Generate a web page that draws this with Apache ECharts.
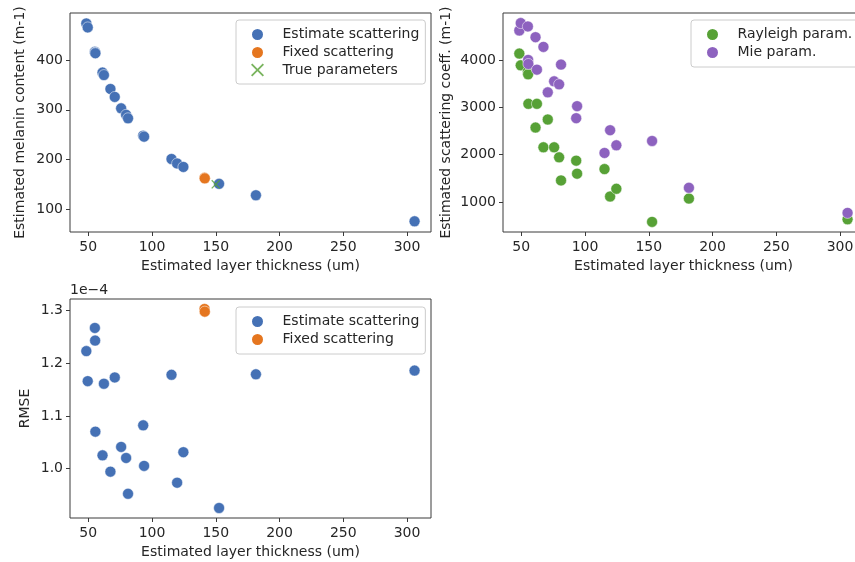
<!DOCTYPE html>
<html>
<head>
<meta charset="utf-8">
<script src="https://cdn.jsdelivr.net/npm/echarts@6/dist/echarts.min.js"></script>
<style>
  html, body { margin: 0; padding: 0; background: #fff; }
  #chart { width: 855px; height: 562px; }
</style>
</head>
<body>
<div id="chart"></div>
<script>
// estimated layer thickness (um), shared by all panels
const thickness = [48.5, 49.6, 55.2, 55.4, 55.6, 61.2, 62.3, 67.4, 70.8, 75.8, 79.7, 81.2, 93.1, 93.8, 115.3, 119.7, 124.6, 152.6, 181.5, 305.9]
const melanin = [474, 466, 417, 415, 414, 375, 370, 342, 326, 303, 290, 283, 248, 246, 201, 192, 185, 151, 128, 75.5]
const rmse = [1.223, 1.166, 1.267, 1.243, 1.070, 1.025, 1.161, 0.994, 1.173, 1.041, 1.020, 0.952, 1.082, 1.005, 1.178, 0.973, 1.031, 0.925, 1.179, 1.186] // x 1e-4
const rayleigh = [4134, 3887, 3752, 3697, 3074, 2574, 3074, 2157, 2743, 2157, 1945, 1458, 1875, 1600, 1697, 1119, 1282, 583, 1076, 638]
const mie = [4621, 4777, 4706, 4000, 3915, 4480, 3795, 4275, 3316, 3548, 3485, 3901, 2771, 3025, 2037, 2517, 2199, 2290, 1303, 773]

const fixedThickness = [141.2, 141.4]
const fixedMelanin = [163, 162]
const fixedRmse = [1.303, 1.298]

const trueThickness = [150]
const trueMelanin = [150]

const xTicks = [50, 100, 150, 200, 250, 300]
const melaninTicks = [100, 200, 300, 400]
const scatterTicks = [1000, 2000, 3000, 4000]
const rmseTicks = [1.0, 1.1, 1.2, 1.3]

const C = {
  blue: '#4571b5',
  orange: '#e5761f',
  green: '#57a136',
  purple: '#8d62bf',
  text: '#262626',
  frame: '#3a3a3a'
}
const FONT = 'DejaVu Sans'
const FS = 14
const xPath = 'path://M1,0 L5,4 L9,0 L10,1 L6,5 L10,9 L9,10 L5,6 L1,10 L0,9 L4,5 L0,1 Z'

const pairs = (xs, ys) => xs.map((x, i) => [x, ys[i]])

function xAxis (gridIndex) {
  return {
    gridIndex,
    type: 'value',
    min: 35.7,
    max: 318.8,
    name: 'Estimated layer thickness (um)',
    nameLocation: 'middle',
    nameGap: 27,
    nameTextStyle: { color: C.text, fontSize: FS, fontFamily: FONT },
    axisLine: { show: false },
    axisTick: { show: true, inside: false, length: 4, lineStyle: { color: C.frame }, customValues: xTicks },
    axisLabel: { color: C.text, fontSize: FS, fontFamily: FONT, margin: 8, customValues: xTicks },
    splitLine: { show: false }
  }
}

function yAxis (gridIndex, min, max, ticks, name, gap, fmt) {
  return {
    gridIndex,
    type: 'value',
    min,
    max,
    name,
    nameLocation: 'middle',
    nameGap: gap,
    nameTextStyle: { color: C.text, fontSize: FS, fontFamily: FONT },
    axisLine: { show: false },
    axisTick: { show: true, inside: false, length: 4, lineStyle: { color: C.frame }, customValues: ticks },
    axisLabel: { color: C.text, fontSize: FS, fontFamily: FONT, margin: 7, customValues: ticks, formatter: fmt },
    splitLine: { show: false }
  }
}

function dots (name, color, xi, data) {
  return {
    name,
    type: 'scatter',
    xAxisIndex: xi,
    yAxisIndex: xi,
    symbol: 'circle',
    symbolSize: 11,
    itemStyle: { color, opacity: 1, borderColor: '#fff', borderWidth: 0.5 },
    data
  }
}

const legendBase = {
  orient: 'vertical',
  icon: 'circle',
  itemWidth: 40,
  itemHeight: 13,
  itemGap: 3,
  padding: [7, 6, 7, 14],
  borderColor: '#cccccc',
  borderWidth: 1,
  borderRadius: 3,
  backgroundColor: 'rgba(255,255,255,0.85)',
  textStyle: { color: C.text, fontSize: FS, fontFamily: FONT }
}

const frame = { show: true, borderColor: C.frame, borderWidth: 1, backgroundColor: 'transparent', outerBoundsMode: 'none', containLabel: false }

const option = {
  animation: false,
  backgroundColor: '#fff',
  grid: [
    Object.assign({ left: 70, top: 13, width: 361, height: 219 }, frame),
    Object.assign({ left: 503, top: 13, width: 361, height: 219 }, frame),
    Object.assign({ left: 70, top: 299, width: 361, height: 219 }, frame)
  ],
  xAxis: [xAxis(0), xAxis(1), xAxis(2)],
  yAxis: [
    yAxis(0, 54, 495, melaninTicks, 'Estimated melanin content (m-1)', 43, v => String(v)),
    yAxis(1, 370, 4990, scatterTicks, 'Estimated scattering coeff. (m-1)', 50, v => String(v)),
    yAxis(2, 0.906, 1.322, rmseTicks, 'RMSE', 38, v => v.toFixed(1))
  ],
  legend: [
    Object.assign({}, legendBase, {
      left: 236, top: 20,
      data: [
        { name: 'Estimate scattering' },
        { name: 'Fixed scattering' },
        { name: 'True parameters', icon: xPath }
      ]
    }),
    Object.assign({}, legendBase, {
      left: 691, top: 20,
      data: ['Rayleigh param.', 'Mie param.']
    }),
    Object.assign({}, legendBase, {
      left: 236, top: 307,
      data: ['Estimate scattering', 'Fixed scattering']
    })
  ],
  graphic: [{
    type: 'text',
    left: 70,
    top: 283,
    style: { text: '1e\u22124', fill: C.text, font: '14px "DejaVu Sans"' }
  }],
  series: [
    dots('Estimate scattering', C.blue, 0, pairs(thickness, melanin)),
    dots('Fixed scattering', C.orange, 0, pairs(fixedThickness, fixedMelanin)),
    {
      name: 'True parameters',
      type: 'scatter',
      xAxisIndex: 0,
      yAxisIndex: 0,
      symbol: xPath,
      symbolSize: 9,
      itemStyle: { color: C.green },
      data: pairs(trueThickness, trueMelanin)
    },
    dots('Rayleigh param.', C.green, 1, pairs(thickness, rayleigh)),
    dots('Mie param.', C.purple, 1, pairs(thickness, mie)),
    dots('Estimate scattering', C.blue, 2, pairs(thickness, rmse)),
    dots('Fixed scattering', C.orange, 2, pairs(fixedThickness, fixedRmse))
  ]
}

const chart = echarts.init(document.getElementById('chart'), null, { renderer: 'canvas' })
chart.setOption(option)
window.addEventListener('resize', () => chart.resize())
</script>
</body>
</html>
